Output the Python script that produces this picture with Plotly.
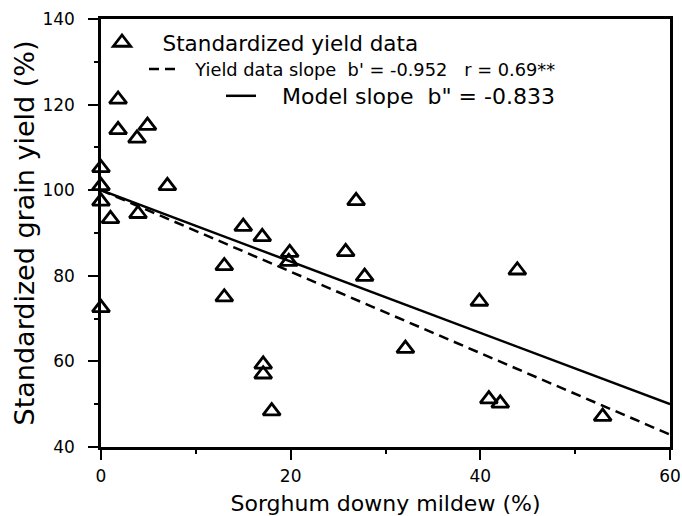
import plotly.graph_objects as go

# Data
mildew_pct = [0, 0, 0, 0, 1.0, 1.8, 1.8, 3.8, 4.9, 3.9, 7.0, 13.0, 13.0, 15.0, 17.0,
              17.1, 17.1, 18.0, 19.9, 19.8, 25.8, 26.9, 27.8, 32.1, 39.9, 43.9,
              40.9, 42.1, 52.9]
yield_pct = [105.2, 101.0, 97.4, 72.5, 93.3, 121.2, 114.1, 112.1, 115.1, 94.5, 101.0,
             82.3, 75.0, 91.5, 89.1, 59.3, 57.0, 48.4, 85.4, 83.3, 85.6, 97.5, 79.8,
             63.0, 74.0, 81.3, 51.2, 50.2, 47.1]

line_x = [0, 60]
data_slope_y = [100, 42.9]   # b' = -0.952
model_slope_y = [100, 50.0]  # b" = -0.833

x_ticks = [0, 20, 40, 60]
y_ticks = [40, 60, 80, 100, 120, 140]

FONT = "DejaVu Sans"

fig = go.Figure()
fig.add_trace(go.Scatter(
    x=mildew_pct, y=yield_pct, mode="markers",
    name="   Standardized yield data",
    marker=dict(symbol="triangle-up-open", size=15, color="black",
                line=dict(width=2.8, color="black")),
    cliponaxis=False, legend="legend", showlegend=True))
fig.add_trace(go.Scatter(
    x=line_x, y=data_slope_y, mode="lines",
    name="  Yield data slope  b' = -0.952   r = 0.69**",
    line=dict(color="black", width=2.5, dash="10px,6px"), legend="legend2",
    showlegend=True))
fig.add_trace(go.Scatter(
    x=line_x, y=model_slope_y, mode="lines",
    name='   Model slope  b" = -0.833',
    line=dict(color="black", width=2.5), legend="legend3", showlegend=True))

L, R, T, B = 101, 12, 19, 69
W, H = 682, 516
pw, ph = W - L - R, H - T - B

def px2x(px):
    return (px - L) / pw

def py2y(py):
    return 1 - (py - T) / ph

common_leg = dict(bgcolor="rgba(0,0,0,0)", borderwidth=0, xanchor="left",
                  yanchor="middle", tracegroupgap=0, itemwidth=30)
fig.update_layout(
    width=W, height=H, showlegend=True,
    margin=dict(l=L, r=R, t=T, b=B, autoexpand=False),
    paper_bgcolor="white", plot_bgcolor="white",
    font=dict(family=FONT, color="black", size=17),
    legend=dict(x=px2x(102), y=py2y(42.5), font=dict(size=21.5, family=FONT), **common_leg),
    legend2=dict(x=px2x(144), y=py2y(69.5), font=dict(size=17.8, family=FONT), **common_leg),
    legend3=dict(x=px2x(221), y=py2y(96), font=dict(size=22, family=FONT), **common_leg),
    xaxis=dict(range=[0, 60], tickvals=x_ticks, ticks="outside", ticklen=10,
               tickwidth=2, tickcolor="black", showline=True, linewidth=2.5,
               linecolor="black", mirror=True, showgrid=False, zeroline=False,
               automargin=False,
               tickfont=dict(size=17), ticklabelstandoff=2,
               minor=dict(dtick=10, ticks="outside", ticklen=4, tickwidth=2,
                          tickcolor="black", showgrid=False),
               title=dict(text="Sorghum downy mildew (%)", font=dict(size=22),
                          standoff=13)),
    yaxis=dict(range=[40, 140], tickvals=y_ticks, ticks="outside", ticklen=10,
               tickwidth=2, tickcolor="black", showline=True, linewidth=2.5,
               linecolor="black", mirror=True, showgrid=False, zeroline=False,
               automargin=False,
               tickfont=dict(size=17), ticklabelstandoff=10,
               minor=dict(dtick=10, ticks="outside", ticklen=4, tickwidth=2,
                          tickcolor="black", showgrid=False),
               title=dict(text="Standardized grain yield (%)", font=dict(size=27),
                          standoff=0)),
)

fig.write_html("out.html",
               config={"displayModeBar": False},
               post_script="document.body.style.margin='0';"
                           "document.body.style.overflow='hidden';")
